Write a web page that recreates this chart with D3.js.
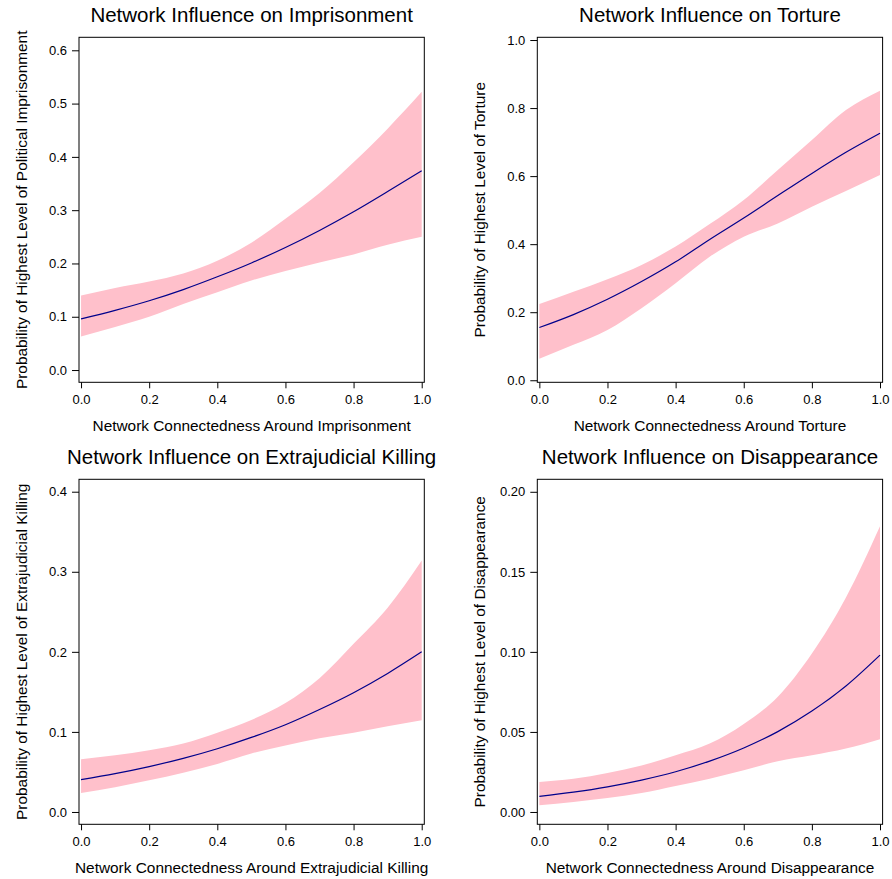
<!DOCTYPE html>
<html>
<head>
<meta charset="utf-8">
<script src="https://cdn.jsdelivr.net/npm/d3@7"></script>
<style>
  html, body { margin: 0; padding: 0; background: #fff; }
  svg { display: block; font-family: "Liberation Sans", Arial, Helvetica, sans-serif; }
</style>
</head>
<body>
<svg id="chart" width="892" height="879"></svg>
<script>
// ---- data ----
const xs = [0, 0.1, 0.2, 0.3, 0.4, 0.5, 0.6, 0.7, 0.8, 0.9, 1.0];

const imprisonMean  = [0.096, 0.112, 0.130, 0.151, 0.175, 0.201, 0.230, 0.262, 0.297, 0.335, 0.374];
const imprisonUpper = [0.140, 0.154, 0.166, 0.181, 0.205, 0.239, 0.284, 0.332, 0.390, 0.453, 0.522];
const imprisonLower = [0.063, 0.081, 0.100, 0.124, 0.146, 0.168, 0.186, 0.202, 0.217, 0.235, 0.250];

const tortureMean  = [0.155, 0.193, 0.238, 0.290, 0.348, 0.414, 0.477, 0.543, 0.608, 0.670, 0.726];
const tortureUpper = [0.224, 0.260, 0.297, 0.339, 0.393, 0.459, 0.530, 0.618, 0.706, 0.794, 0.851];
const tortureLower = [0.063, 0.104, 0.148, 0.212, 0.285, 0.363, 0.422, 0.461, 0.510, 0.556, 0.603];

const killingMean  = [0.0404, 0.0479, 0.0567, 0.0670, 0.079, 0.0931, 0.109, 0.128, 0.149, 0.173, 0.200];
const killingUpper = [0.0658, 0.0708, 0.077, 0.0854, 0.099, 0.115, 0.136, 0.167, 0.210, 0.255, 0.314];
const killingLower = [0.0238, 0.031, 0.0396, 0.049, 0.060, 0.073, 0.083, 0.092, 0.099, 0.107, 0.1146];

const disappMean  = [0.0098, 0.0124, 0.0157, 0.0199, 0.0251, 0.0318, 0.040, 0.0502, 0.063, 0.0787, 0.098];
const disappUpper = [0.0188, 0.0208, 0.0244, 0.029, 0.0354, 0.0427, 0.055, 0.072, 0.099, 0.134, 0.1785];
const disappLower = [0.0042, 0.0063, 0.0088, 0.0119, 0.0163, 0.0208, 0.026, 0.0317, 0.0354, 0.0396, 0.0454];

const xTicks = [0, 0.2, 0.4, 0.6, 0.8, 1.0];
const imprisonTicks = [0, 0.1, 0.2, 0.3, 0.4, 0.5, 0.6];
const tortureTicks  = [0, 0.2, 0.4, 0.6, 0.8, 1.0];
const killingTicks  = [0, 0.1, 0.2, 0.3, 0.4];
const disappTicks   = [0, 0.05, 0.10, 0.15, 0.20];

const titles = [
  "Network Influence on Imprisonment",
  "Network Influence on Torture",
  "Network Influence on Extrajudicial Killing",
  "Network Influence on Disappearance"
];
const xLabels = [
  "Network Connectedness Around Imprisonment",
  "Network Connectedness Around Torture",
  "Network Connectedness Around Extrajudicial Killing",
  "Network Connectedness Around Disappearance"
];
const yLabels = [
  "Probability of Highest Level of Political Imprisonment",
  "Probability of Highest Level of Torture",
  "Probability of Highest Level of Extrajudicial Killing",
  "Probability of Highest Level of Disappearance"
];

// ---- layout ----
const panels = [
  { left: 79,    top: 37.3,  yDomain: [-0.023, 0.6244], ticks: imprisonTicks, fmt: ".1f",
    mean: imprisonMean, upper: imprisonUpper, lower: imprisonLower },
  { left: 537.3, top: 37.3,  yDomain: [-0.006, 1.008],  ticks: tortureTicks,  fmt: ".1f",
    mean: tortureMean, upper: tortureUpper, lower: tortureLower },
  { left: 79,    top: 479.3, yDomain: [-0.0154, 0.4155], ticks: killingTicks, fmt: ".1f",
    mean: killingMean, upper: killingUpper, lower: killingLower },
  { left: 537.3, top: 479.3, yDomain: [-0.0077, 0.2078], ticks: disappTicks,  fmt: ".2f",
    mean: disappMean, upper: disappUpper, lower: disappLower }
];
const W = 345.3, H = 345;

const svg = d3.select("#chart");

panels.forEach((p, i) => {
  const g = svg.append("g");
  const x = d3.scaleLinear().domain([-0.006, 1.0076]).range([p.left, p.left + W]);
  const y = d3.scaleLinear().domain(p.yDomain).range([p.top + H, p.top]);

  const rows = xs.map((xv, k) => ({ x: xv, m: p.mean[k], u: p.upper[k], l: p.lower[k] }));

  g.append("path")
    .datum(rows)
    .attr("fill", "#FFC0CB")
    .attr("stroke", "none")
    .attr("d", d3.area().curve(d3.curveMonotoneX)
      .x(d => x(d.x)).y0(d => y(d.l)).y1(d => y(d.u)));

  g.append("path")
    .datum(rows)
    .attr("fill", "none")
    .attr("stroke", "#00008B")
    .attr("stroke-width", 1.2)
    .attr("d", d3.line().curve(d3.curveMonotoneX)
      .x(d => x(d.x)).y(d => y(d.m)));

  // box
  g.append("rect")
    .attr("x", p.left).attr("y", p.top)
    .attr("width", W).attr("height", H)
    .attr("fill", "none").attr("stroke", "#000").attr("stroke-width", 1);

  // x axis
  const xAxis = d3.axisBottom(x).tickValues(xTicks).tickFormat(d3.format(".1f"))
    .tickSize(6).tickPadding(6);
  const gx = g.append("g").attr("transform", `translate(0,${p.top + H})`).call(xAxis);
  gx.select(".domain").remove();
  gx.selectAll("text").attr("font-size", 13).attr("font-family", "Liberation Sans, Arial, sans-serif").attr("fill", "#000");
  gx.selectAll("line").attr("stroke", "#000");

  // y axis
  const yAxis = d3.axisLeft(y).tickValues(p.ticks).tickFormat(d3.format(p.fmt))
    .tickSize(7).tickPadding(5);
  const gy = g.append("g").attr("transform", `translate(${p.left},0)`).call(yAxis);
  gy.select(".domain").remove();
  gy.selectAll("text").attr("font-size", 13).attr("font-family", "Liberation Sans, Arial, sans-serif").attr("fill", "#000");
  gy.selectAll("line").attr("stroke", "#000");

  // title
  g.append("text")
    .attr("x", p.left + W / 2).attr("y", p.top - 15)
    .attr("text-anchor", "middle").attr("font-size", 20.5).attr("fill", "#000")
    .text(titles[i]);

  // x label
  g.append("text")
    .attr("x", p.left + W / 2).attr("y", p.top + H + 48.5)
    .attr("text-anchor", "middle").attr("font-size", 15.4).attr("fill", "#000")
    .text(xLabels[i]);

  // y label
  g.append("text")
    .attr("transform", `translate(${p.left - 52.5},${p.top + H / 2}) rotate(-90)`)
    .attr("text-anchor", "middle").attr("font-size", 15.4).attr("fill", "#000")
    .text(yLabels[i]);
});
</script>
</body>
</html>
